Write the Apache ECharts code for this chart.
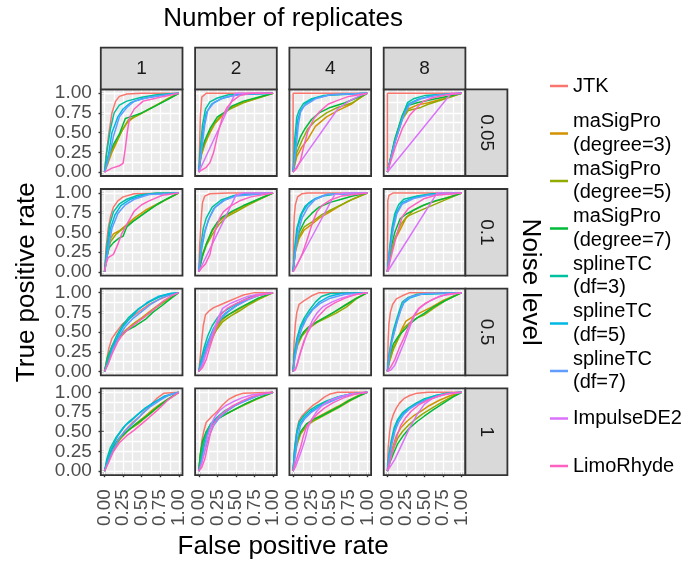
<!DOCTYPE html>
<html>
<head>
<meta charset="utf-8">
<script src="https://cdn.jsdelivr.net/npm/echarts@6.0.0/dist/echarts.min.js"></script>
<style>
  html, body { margin: 0; padding: 0; background: #fff; }
  #main { width: 693px; height: 563px; }
</style>
</head>
<body>
<div id="main"></div>
<script>
// facets
var replicates = ['1', '2', '4', '8'];
var noiseLevels = ['0.05', '0.1', '0.5', '1'];
var ticks = [0, 0.25, 0.5, 0.75, 1];
var tickLabels = ['0.00', '0.25', '0.50', '0.75', '1.00'];
var gridValues = [0, 0.125, 0.25, 0.375, 0.5, 0.625, 0.75, 0.875, 1];

var methods = ['JTK', 'maSigPro (degree=3)', 'maSigPro (degree=5)', 'maSigPro (degree=7)',
  'splineTC (df=3)', 'splineTC (df=5)', 'splineTC (df=7)', 'ImpulseDE2', 'LimoRhyde'];
var colors = ['#F8766D', '#D39200', '#93AA00', '#00BA38', '#00C19F', '#00B9E3', '#619CFF', '#DB72FB', '#FF61C3'];

// ROC curves [fpr, tpr], rows = noise level, cols = replicates
var JTK = [
  [[[0,0],[0.02,0.2],[0.06,0.5],[0.1,0.75],[0.15,0.9],[0.2,0.96],[0.3,0.99],[0.5,1],[1,1]],
   [[0,0],[0.01,0.3],[0.02,0.7],[0.04,0.95],[0.1,1],[1,1]],
   [[0,0],[0,1],[1,1]],
   [[0,0],[0,1],[1,1]]],
  [[[0,0],[0.02,0.3],[0.05,0.55],[0.08,0.7],[0.12,0.82],[0.18,0.9],[0.25,0.95],[0.4,0.99],[1,1]],
   [[0,0],[0.01,0.3],[0.03,0.65],[0.05,0.88],[0.08,0.96],[0.15,0.99],[0.4,1],[1,1]],
   [[0,0],[0.005,0.4],[0.015,0.7],[0.03,0.85],[0.06,0.95],[0.12,0.99],[0.2,1],[1,1]],
   [[0,0],[0.005,0.9],[0.02,0.97],[0.08,1],[1,1]]],
  [[[0,0],[0.03,0.15],[0.06,0.3],[0.1,0.42],[0.16,0.5],[0.24,0.6],[0.35,0.68],[0.45,0.75],[0.6,0.85],[0.75,0.92],[0.9,0.98],[1,1]],
   [[0,0],[0.02,0.2],[0.04,0.4],[0.06,0.58],[0.09,0.72],[0.14,0.77],[0.2,0.81],[0.3,0.85],[0.4,0.89],[0.5,0.93],[0.6,0.97],[0.75,1],[1,1]],
   [[0,0],[0.005,0.2],[0.015,0.4],[0.03,0.6],[0.05,0.75],[0.08,0.85],[0.15,0.9],[0.25,0.96],[0.35,1],[1,1]],
   [[0,0],[0.005,0.2],[0.01,0.4],[0.02,0.6],[0.04,0.75],[0.07,0.85],[0.12,0.92],[0.2,0.96],[0.3,1],[1,1]]],
  [[[0,0],[0.04,0.12],[0.1,0.28],[0.18,0.4],[0.28,0.52],[0.38,0.62],[0.48,0.7],[0.58,0.8],[0.7,0.92],[0.8,0.99],[1,1]],
   [[0,0],[0.02,0.2],[0.04,0.38],[0.07,0.52],[0.1,0.62],[0.18,0.7],[0.25,0.76],[0.32,0.84],[0.4,0.91],[0.5,0.96],[0.6,0.99],[1,1]],
   [[0,0],[0.02,0.3],[0.05,0.52],[0.08,0.64],[0.12,0.7],[0.18,0.76],[0.26,0.83],[0.34,0.88],[0.42,0.94],[0.5,0.98],[0.6,1],[1,1]],
   [[0,0],[0.01,0.3],[0.03,0.5],[0.05,0.63],[0.08,0.72],[0.12,0.8],[0.16,0.86],[0.22,0.92],[0.3,0.96],[0.4,0.99],[0.55,1],[1,1]]]
];

var SIGPRO3 = [
  [[[0,0],[0.05,0.12],[0.1,0.25],[0.15,0.35],[0.22,0.5],[0.3,0.62],[0.4,0.7],[0.55,0.77],[0.7,0.85],[0.85,0.93],[1,1]],
   [[0,0],[0.03,0.2],[0.08,0.35],[0.15,0.5],[0.22,0.62],[0.3,0.7],[0.4,0.8],[0.55,0.87],[0.75,0.93],[1,1]],
   [[0,0],[0.05,0.2],[0.12,0.32],[0.2,0.42],[0.3,0.58],[0.45,0.7],[0.6,0.78],[0.78,0.86],[0.9,0.94],[1,1]],
   [[0,0],[0.1,0.4],[0.2,0.7],[0.28,0.8],[0.4,0.85],[0.55,0.88],[0.75,0.93],[1,1]]],
  [[[0,0],[0.03,0.2],[0.07,0.4],[0.12,0.48],[0.2,0.52],[0.3,0.6],[0.4,0.68],[0.55,0.78],[0.75,0.88],[0.9,0.95],[1,1]],
   [[0,0],[0.04,0.2],[0.1,0.35],[0.17,0.5],[0.25,0.62],[0.35,0.7],[0.5,0.78],[0.65,0.85],[0.8,0.92],[1,1]],
   [[0,0],[0.03,0.25],[0.08,0.42],[0.15,0.53],[0.25,0.6],[0.35,0.68],[0.48,0.75],[0.6,0.82],[0.75,0.9],[0.9,0.96],[1,1]],
   [[0,0],[0.04,0.2],[0.1,0.4],[0.18,0.55],[0.25,0.68],[0.35,0.78],[0.45,0.83],[0.6,0.88],[0.8,0.94],[1,1]]],
  [[[0,0],[0.04,0.15],[0.1,0.3],[0.18,0.42],[0.28,0.52],[0.38,0.6],[0.5,0.68],[0.62,0.77],[0.75,0.86],[0.88,0.94],[1,1]],
   [[0,0],[0.04,0.12],[0.1,0.26],[0.16,0.4],[0.22,0.52],[0.3,0.64],[0.4,0.72],[0.52,0.78],[0.65,0.85],[0.8,0.92],[1,1]],
   [[0,0],[0.02,0.2],[0.06,0.35],[0.12,0.47],[0.2,0.56],[0.3,0.62],[0.42,0.68],[0.55,0.75],[0.7,0.84],[0.85,0.93],[1,1]],
   [[0,0],[0.03,0.15],[0.08,0.3],[0.14,0.42],[0.2,0.55],[0.25,0.64],[0.35,0.7],[0.45,0.75],[0.6,0.82],[0.75,0.9],[0.9,0.96],[1,1]]],
  [[[0,0],[0.04,0.12],[0.1,0.26],[0.2,0.4],[0.3,0.5],[0.42,0.6],[0.55,0.7],[0.65,0.78],[0.75,0.85],[0.88,0.93],[1,1]],
   [[0,0],[0.02,0.18],[0.05,0.33],[0.1,0.48],[0.16,0.58],[0.25,0.66],[0.35,0.72],[0.48,0.78],[0.62,0.85],[0.78,0.92],[1,1]],
   [[0,0],[0.02,0.2],[0.05,0.35],[0.1,0.48],[0.17,0.58],[0.26,0.65],[0.36,0.7],[0.48,0.76],[0.6,0.82],[0.75,0.9],[0.88,0.96],[1,1]],
   [[0,0],[0.03,0.15],[0.07,0.3],[0.12,0.45],[0.18,0.55],[0.26,0.63],[0.35,0.7],[0.45,0.76],[0.56,0.83],[0.7,0.9],[0.85,0.96],[1,1]]]
];

var SIGPRO5 = [
  [[[0,0],[0.05,0.15],[0.1,0.28],[0.18,0.42],[0.25,0.55],[0.32,0.66],[0.45,0.72],[0.6,0.8],[0.8,0.9],[1,1]],
   [[0,0],[0.03,0.22],[0.08,0.38],[0.15,0.52],[0.22,0.63],[0.3,0.72],[0.42,0.8],[0.6,0.88],[0.8,0.94],[1,1]],
   [[0,0],[0.05,0.25],[0.12,0.4],[0.2,0.55],[0.3,0.65],[0.45,0.75],[0.6,0.82],[0.8,0.88],[1,1]],
   [[0,0],[0.1,0.38],[0.2,0.67],[0.28,0.78],[0.45,0.82],[0.55,0.86],[0.75,0.92],[1,1]]],
  [[[0,0],[0.04,0.22],[0.08,0.38],[0.15,0.47],[0.25,0.55],[0.35,0.62],[0.5,0.72],[0.65,0.82],[0.8,0.9],[1,1]],
   [[0,0],[0.04,0.18],[0.1,0.33],[0.18,0.47],[0.27,0.6],[0.38,0.7],[0.5,0.76],[0.65,0.84],[0.82,0.92],[1,1]],
   [[0,0],[0.03,0.28],[0.08,0.45],[0.15,0.57],[0.25,0.63],[0.38,0.72],[0.5,0.78],[0.65,0.85],[0.8,0.92],[1,1]],
   [[0,0],[0.04,0.22],[0.1,0.42],[0.18,0.6],[0.26,0.7],[0.4,0.76],[0.55,0.82],[0.7,0.88],[0.85,0.94],[1,1]]],
  [[[0,0],[0.04,0.13],[0.1,0.28],[0.2,0.42],[0.3,0.52],[0.42,0.62],[0.55,0.7],[0.68,0.8],[0.8,0.88],[0.92,0.96],[1,1]],
   [[0,0],[0.04,0.1],[0.1,0.25],[0.17,0.4],[0.24,0.53],[0.32,0.63],[0.42,0.7],[0.55,0.77],[0.68,0.85],[0.82,0.92],[1,1]],
   [[0,0],[0.02,0.18],[0.06,0.33],[0.12,0.45],[0.2,0.54],[0.32,0.62],[0.45,0.68],[0.58,0.74],[0.72,0.82],[0.85,0.92],[1,1]],
   [[0,0],[0.03,0.13],[0.08,0.28],[0.15,0.42],[0.22,0.55],[0.3,0.62],[0.4,0.68],[0.5,0.72],[0.62,0.8],[0.78,0.9],[1,1]]],
  [[[0,0],[0.05,0.12],[0.12,0.27],[0.22,0.42],[0.32,0.52],[0.45,0.6],[0.55,0.68],[0.68,0.78],[0.8,0.87],[0.92,0.95],[1,1]],
   [[0,0],[0.02,0.2],[0.05,0.35],[0.1,0.5],[0.17,0.6],[0.26,0.67],[0.38,0.73],[0.5,0.79],[0.64,0.85],[0.8,0.92],[1,1]],
   [[0,0],[0.02,0.18],[0.05,0.33],[0.1,0.47],[0.18,0.57],[0.28,0.64],[0.38,0.69],[0.5,0.75],[0.62,0.81],[0.76,0.89],[0.9,0.96],[1,1]],
   [[0,0],[0.03,0.12],[0.08,0.28],[0.14,0.42],[0.2,0.5],[0.28,0.58],[0.38,0.66],[0.48,0.73],[0.6,0.8],[0.74,0.88],[0.88,0.95],[1,1]]]
];

var SIGPRO7 = [
  [[[0,0],[0.05,0.2],[0.12,0.35],[0.2,0.48],[0.28,0.68],[0.35,0.7],[0.5,0.75],[0.65,0.82],[0.85,0.92],[1,1]],
   [[0,0],[0.03,0.25],[0.08,0.4],[0.15,0.55],[0.25,0.7],[0.35,0.76],[0.45,0.84],[0.6,0.9],[0.8,0.95],[1,1]],
   [[0,0],[0.04,0.3],[0.1,0.45],[0.16,0.55],[0.25,0.67],[0.35,0.75],[0.5,0.82],[0.7,0.88],[0.85,0.94],[1,1]],
   [[0,0],[0.1,0.42],[0.2,0.72],[0.26,0.84],[0.4,0.88],[0.6,0.92],[0.8,0.96],[1,1]]],
  [[[0,0],[0.03,0.18],[0.06,0.3],[0.12,0.37],[0.2,0.43],[0.25,0.45],[0.3,0.57],[0.4,0.65],[0.55,0.75],[0.7,0.85],[0.85,0.93],[1,1]],
   [[0,0],[0.05,0.2],[0.1,0.35],[0.18,0.53],[0.25,0.63],[0.31,0.69],[0.45,0.77],[0.6,0.84],[0.8,0.92],[1,1]],
   [[0,0],[0.03,0.3],[0.08,0.5],[0.16,0.65],[0.25,0.74],[0.35,0.82],[0.5,0.88],[0.65,0.92],[0.8,0.96],[1,1]],
   [[0,0],[0.04,0.28],[0.1,0.5],[0.17,0.67],[0.25,0.73],[0.35,0.78],[0.5,0.85],[0.65,0.9],[0.85,0.95],[1,1]]],
  [[[0,0],[0.04,0.18],[0.1,0.32],[0.2,0.45],[0.3,0.52],[0.42,0.58],[0.55,0.66],[0.65,0.75],[0.78,0.84],[0.9,0.93],[1,1]],
   [[0,0],[0.04,0.14],[0.1,0.3],[0.16,0.44],[0.22,0.56],[0.3,0.66],[0.4,0.72],[0.52,0.79],[0.66,0.86],[0.8,0.93],[1,1]],
   [[0,0],[0.02,0.25],[0.06,0.37],[0.14,0.5],[0.22,0.57],[0.32,0.63],[0.45,0.7],[0.56,0.76],[0.7,0.84],[0.84,0.92],[1,1]],
   [[0,0],[0.03,0.2],[0.08,0.35],[0.15,0.45],[0.22,0.52],[0.3,0.6],[0.4,0.68],[0.5,0.74],[0.62,0.82],[0.78,0.9],[1,1]]],
  [[[0,0],[0.04,0.15],[0.1,0.28],[0.2,0.42],[0.3,0.5],[0.4,0.58],[0.5,0.65],[0.6,0.72],[0.72,0.82],[0.85,0.91],[1,1]],
   [[0,0],[0.02,0.22],[0.05,0.38],[0.1,0.5],[0.16,0.6],[0.25,0.66],[0.36,0.72],[0.48,0.78],[0.62,0.85],[0.78,0.92],[1,1]],
   [[0,0],[0.02,0.22],[0.05,0.38],[0.1,0.5],[0.18,0.6],[0.28,0.66],[0.38,0.7],[0.5,0.76],[0.62,0.82],[0.76,0.9],[0.9,0.96],[1,1]],
   [[0,0],[0.03,0.1],[0.08,0.22],[0.14,0.35],[0.22,0.46],[0.3,0.55],[0.4,0.63],[0.5,0.7],[0.62,0.78],[0.75,0.86],[0.88,0.94],[1,1]]]
];

var SPLINE3 = [
  [[[0,0],[0.03,0.25],[0.08,0.55],[0.13,0.75],[0.2,0.85],[0.3,0.9],[0.5,0.95],[0.7,0.98],[1,1]],
   [[0,0],[0.02,0.3],[0.05,0.6],[0.09,0.8],[0.15,0.89],[0.25,0.94],[0.4,0.98],[1,1]],
   [[0,0],[0.02,0.4],[0.05,0.7],[0.08,0.78],[0.14,0.87],[0.25,0.93],[0.4,0.97],[1,1]],
   [[0,0],[0.1,0.4],[0.2,0.7],[0.27,0.88],[0.35,0.93],[0.5,0.97],[1,1]]],
  [[[0,0],[0.03,0.3],[0.07,0.6],[0.12,0.76],[0.2,0.86],[0.3,0.92],[0.45,0.97],[0.7,1],[1,1]],
   [[0,0],[0.03,0.35],[0.06,0.55],[0.1,0.68],[0.18,0.82],[0.3,0.91],[0.45,0.96],[0.6,0.99],[1,1]],
   [[0,0],[0.02,0.3],[0.05,0.55],[0.1,0.72],[0.16,0.83],[0.25,0.9],[0.4,0.96],[0.6,0.99],[1,1]],
   [[0,0],[0.03,0.3],[0.06,0.55],[0.1,0.74],[0.15,0.85],[0.22,0.92],[0.4,0.96],[0.6,0.99],[1,1]]],
  [[[0,0],[0.04,0.15],[0.1,0.32],[0.16,0.45],[0.24,0.58],[0.32,0.68],[0.45,0.79],[0.6,0.88],[0.75,0.95],[0.9,0.99],[1,1]],
   [[0,0],[0.03,0.15],[0.07,0.3],[0.12,0.45],[0.18,0.58],[0.25,0.68],[0.32,0.75],[0.42,0.81],[0.55,0.88],[0.7,0.95],[0.85,0.98],[1,1]],
   [[0,0],[0.02,0.25],[0.05,0.42],[0.1,0.58],[0.15,0.68],[0.22,0.78],[0.3,0.88],[0.38,0.95],[0.5,0.99],[1,1]],
   [[0,0],[0.02,0.2],[0.05,0.38],[0.08,0.52],[0.12,0.65],[0.16,0.77],[0.2,0.88],[0.28,0.94],[0.4,0.98],[1,1]]],
  [[[0,0],[0.03,0.15],[0.08,0.3],[0.15,0.42],[0.25,0.55],[0.32,0.62],[0.42,0.7],[0.55,0.8],[0.68,0.88],[0.82,0.95],[1,1]],
   [[0,0],[0.03,0.15],[0.06,0.32],[0.1,0.48],[0.16,0.6],[0.24,0.68],[0.34,0.76],[0.45,0.82],[0.58,0.88],[0.72,0.93],[0.86,0.98],[1,1]],
   [[0,0],[0.02,0.28],[0.05,0.5],[0.08,0.62],[0.14,0.7],[0.22,0.77],[0.32,0.83],[0.45,0.89],[0.6,0.94],[0.78,0.98],[1,1]],
   [[0,0],[0.02,0.2],[0.05,0.38],[0.09,0.55],[0.14,0.66],[0.2,0.74],[0.28,0.8],[0.38,0.86],[0.5,0.92],[0.65,0.96],[0.8,0.99],[1,1]]]
];

var SPLINE5 = [
  [[[0,0],[0.05,0.2],[0.1,0.5],[0.18,0.7],[0.25,0.8],[0.35,0.88],[0.5,0.93],[0.8,0.98],[1,1]],
   [[0,0],[0.03,0.25],[0.06,0.55],[0.1,0.75],[0.17,0.86],[0.3,0.93],[0.5,0.98],[1,1]],
   [[0,0],[0.03,0.35],[0.06,0.65],[0.1,0.78],[0.18,0.88],[0.3,0.94],[0.5,0.98],[1,1]],
   [[0,0],[0.1,0.38],[0.2,0.68],[0.28,0.86],[0.4,0.92],[0.6,0.97],[1,1]]],
  [[[0,0],[0.04,0.3],[0.08,0.55],[0.14,0.72],[0.22,0.84],[0.35,0.92],[0.55,0.98],[1,1]],
   [[0,0],[0.04,0.3],[0.08,0.5],[0.13,0.66],[0.2,0.8],[0.32,0.9],[0.5,0.97],[1,1]],
   [[0,0],[0.03,0.3],[0.06,0.55],[0.12,0.74],[0.2,0.86],[0.3,0.93],[0.45,0.98],[1,1]],
   [[0,0],[0.03,0.28],[0.07,0.55],[0.12,0.75],[0.2,0.88],[0.35,0.94],[0.55,0.98],[1,1]]],
  [[[0,0],[0.05,0.12],[0.1,0.28],[0.18,0.45],[0.25,0.57],[0.35,0.68],[0.45,0.78],[0.58,0.88],[0.72,0.95],[0.88,0.99],[1,1]],
   [[0,0],[0.03,0.12],[0.08,0.28],[0.14,0.42],[0.2,0.55],[0.28,0.66],[0.36,0.74],[0.48,0.82],[0.62,0.9],[0.78,0.96],[1,1]],
   [[0,0],[0.02,0.2],[0.05,0.38],[0.1,0.55],[0.16,0.66],[0.25,0.78],[0.35,0.88],[0.48,0.95],[0.65,0.99],[1,1]],
   [[0,0],[0.02,0.18],[0.05,0.35],[0.09,0.5],[0.13,0.64],[0.17,0.76],[0.22,0.87],[0.3,0.93],[0.45,0.98],[1,1]]],
  [[[0,0],[0.04,0.14],[0.1,0.3],[0.18,0.45],[0.28,0.58],[0.35,0.63],[0.45,0.72],[0.55,0.8],[0.68,0.88],[0.8,0.95],[1,1]],
   [[0,0],[0.03,0.12],[0.07,0.3],[0.12,0.48],[0.18,0.6],[0.26,0.69],[0.36,0.76],[0.48,0.83],[0.6,0.89],[0.75,0.95],[1,1]],
   [[0,0],[0.02,0.25],[0.05,0.48],[0.09,0.6],[0.15,0.68],[0.24,0.76],[0.34,0.82],[0.46,0.88],[0.6,0.94],[0.78,0.98],[1,1]],
   [[0,0],[0.02,0.18],[0.05,0.35],[0.09,0.52],[0.14,0.64],[0.2,0.72],[0.3,0.8],[0.4,0.86],[0.52,0.91],[0.66,0.96],[0.82,0.99],[1,1]]]
];

var SPLINE7 = [
  [[[0,0],[0.05,0.15],[0.12,0.45],[0.2,0.7],[0.3,0.82],[0.4,0.9],[0.6,0.95],[1,1]],
   [[0,0],[0.04,0.3],[0.08,0.6],[0.12,0.78],[0.2,0.88],[0.35,0.95],[0.6,0.99],[1,1]],
   [[0,0],[0.04,0.3],[0.07,0.6],[0.1,0.76],[0.15,0.84],[0.3,0.93],[0.5,0.98],[1,1]],
   [[0,0],[0.1,0.37],[0.22,0.72],[0.3,0.86],[0.45,0.93],[0.7,0.98],[1,1]]],
  [[[0,0],[0.05,0.28],[0.1,0.55],[0.18,0.74],[0.28,0.85],[0.4,0.92],[0.6,0.98],[1,1]],
   [[0,0],[0.04,0.35],[0.09,0.55],[0.15,0.7],[0.22,0.82],[0.35,0.91],[0.5,0.96],[1,1]],
   [[0,0],[0.03,0.25],[0.07,0.5],[0.12,0.68],[0.2,0.82],[0.3,0.92],[0.45,0.98],[1,1]],
   [[0,0],[0.04,0.3],[0.08,0.55],[0.13,0.74],[0.2,0.86],[0.35,0.93],[0.55,0.97],[1,1]]],
  [[[0,0],[0.05,0.1],[0.12,0.3],[0.2,0.45],[0.28,0.57],[0.38,0.67],[0.5,0.76],[0.62,0.85],[0.78,0.94],[1,1]],
   [[0,0],[0.04,0.1],[0.1,0.28],[0.16,0.45],[0.22,0.56],[0.3,0.67],[0.4,0.76],[0.52,0.84],[0.66,0.91],[0.82,0.97],[1,1]],
   [[0,0],[0.03,0.2],[0.07,0.4],[0.12,0.55],[0.18,0.67],[0.26,0.78],[0.36,0.86],[0.5,0.93],[0.7,0.98],[1,1]],
   [[0,0],[0.03,0.2],[0.06,0.38],[0.1,0.52],[0.14,0.66],[0.18,0.78],[0.23,0.9],[0.32,0.95],[0.5,0.99],[1,1]]],
  [[[0,0],[0.05,0.12],[0.12,0.28],[0.2,0.42],[0.3,0.53],[0.4,0.62],[0.5,0.72],[0.62,0.82],[0.75,0.9],[0.88,0.97],[1,1]],
   [[0,0],[0.04,0.12],[0.08,0.25],[0.13,0.42],[0.2,0.58],[0.28,0.68],[0.38,0.76],[0.5,0.84],[0.65,0.9],[0.8,0.96],[1,1]],
   [[0,0],[0.03,0.2],[0.06,0.42],[0.1,0.58],[0.16,0.67],[0.25,0.75],[0.36,0.82],[0.5,0.88],[0.65,0.94],[0.82,0.98],[1,1]],
   [[0,0],[0.03,0.18],[0.06,0.34],[0.1,0.5],[0.15,0.62],[0.22,0.72],[0.3,0.79],[0.4,0.85],[0.52,0.9],[0.68,0.95],[0.84,0.99],[1,1]]]
];

// ImpulseDE2 needs replicates, so no curve for 1 replicate
var IMPULSE = [
  [null,
   [[0,0],[0.49,1],[1,1]],
   [[0,0],[0.6,0.8],[0.75,0.9],[0.9,0.97],[1,1]],
   [[0,0],[0.86,1],[1,1]]],
  [null,
   [[0,0],[0.5,0.97],[0.6,1],[1,1]],
   [[0,0],[0.56,0.98],[0.7,1],[1,1]],
   [[0,0],[0.67,1],[1,1]]],
  [null,
   [[0,0],[0.04,0.05],[0.09,0.2],[0.14,0.35],[0.2,0.52],[0.26,0.68],[0.32,0.8],[0.42,0.86],[0.52,0.9],[0.65,0.95],[0.8,0.98],[1,1]],
   [[0,0],[0.04,0.05],[0.08,0.18],[0.14,0.35],[0.2,0.52],[0.26,0.65],[0.32,0.74],[0.4,0.82],[0.52,0.88],[0.65,0.93],[0.8,0.97],[1,1]],
   [[0,0],[0.05,0.02],[0.1,0.08],[0.16,0.22],[0.23,0.38],[0.3,0.56],[0.36,0.7],[0.43,0.8],[0.5,0.85],[0.6,0.91],[0.72,0.96],[1,1]]],
  [null,
   [[0,0],[0.04,0.1],[0.08,0.28],[0.12,0.45],[0.17,0.6],[0.22,0.7],[0.28,0.77],[0.36,0.83],[0.46,0.88],[0.58,0.93],[0.72,0.97],[1,1]],
   [[0,0],[0.03,0.05],[0.07,0.15],[0.12,0.28],[0.16,0.4],[0.2,0.55],[0.25,0.66],[0.32,0.76],[0.4,0.84],[0.5,0.9],[0.62,0.94],[0.78,0.98],[1,1]],
   [[0,0],[0.1,0.15],[0.2,0.35],[0.3,0.55],[0.4,0.72],[0.5,0.85],[0.6,0.92],[0.75,0.97],[1,1]]]
];

var LIMO = [
  [[[0,0],[0.02,0.02],[0.1,0.05],[0.2,0.08],[0.25,0.11],[0.28,0.3],[0.31,0.53],[0.34,0.7],[0.4,0.8],[0.52,0.9],[0.66,0.93],[0.8,0.96],[1,1]],
   [[0,0],[0.03,0.02],[0.1,0.06],[0.15,0.12],[0.2,0.25],[0.26,0.5],[0.32,0.7],[0.38,0.82],[0.45,0.9],[0.55,0.97],[0.7,1],[1,1]],
   [[0,0],[0.05,0.05],[0.1,0.15],[0.15,0.35],[0.2,0.52],[0.28,0.68],[0.35,0.76],[0.47,0.86],[0.6,0.91],[0.75,0.96],[1,1]],
   [[0,0],[0.1,0.3],[0.2,0.55],[0.3,0.72],[0.38,0.8],[0.47,0.89],[0.6,0.94],[0.8,0.98],[1,1]]],
  [[[0,0],[0.02,0.1],[0.05,0.18],[0.12,0.22],[0.18,0.35],[0.23,0.48],[0.3,0.6],[0.4,0.77],[0.5,0.85],[0.6,0.9],[0.78,0.97],[1,1]],
   [[0,0],[0.04,0.05],[0.09,0.1],[0.15,0.22],[0.19,0.4],[0.22,0.52],[0.28,0.68],[0.33,0.76],[0.42,0.83],[0.55,0.9],[0.7,0.95],[1,1]],
   [[0,0],[0.05,0.08],[0.12,0.22],[0.18,0.38],[0.22,0.5],[0.26,0.62],[0.32,0.76],[0.4,0.85],[0.5,0.91],[0.65,0.96],[1,1]],
   [[0,0],[0.04,0.15],[0.1,0.38],[0.15,0.55],[0.2,0.7],[0.28,0.8],[0.38,0.86],[0.5,0.93],[0.65,0.97],[1,1]]],
  [[[0,0],[0.05,0.1],[0.1,0.22],[0.18,0.38],[0.25,0.48],[0.35,0.56],[0.45,0.63],[0.55,0.7],[0.68,0.8],[0.8,0.9],[0.9,0.96],[1,1]],
   [[0,0],[0.05,0.05],[0.1,0.15],[0.14,0.28],[0.18,0.4],[0.24,0.58],[0.3,0.72],[0.38,0.8],[0.5,0.86],[0.62,0.91],[0.78,0.96],[1,1]],
   [[0,0],[0.03,0.02],[0.06,0.1],[0.1,0.25],[0.15,0.4],[0.2,0.5],[0.26,0.6],[0.34,0.7],[0.44,0.8],[0.56,0.87],[0.7,0.93],[0.85,0.98],[1,1]],
   [[0,0],[0.04,0.05],[0.1,0.15],[0.16,0.3],[0.22,0.42],[0.28,0.56],[0.35,0.7],[0.42,0.8],[0.52,0.87],[0.65,0.93],[0.8,0.98],[1,1]]],
  [[[0,0],[0.05,0.1],[0.12,0.25],[0.2,0.36],[0.3,0.45],[0.4,0.52],[0.5,0.6],[0.6,0.68],[0.72,0.78],[0.85,0.9],[1,1]],
   [[0,0],[0.04,0.05],[0.08,0.15],[0.12,0.32],[0.16,0.5],[0.2,0.6],[0.26,0.68],[0.34,0.75],[0.44,0.82],[0.56,0.88],[0.7,0.94],[0.85,0.98],[1,1]],
   [[0,0],[0.03,0.1],[0.07,0.22],[0.1,0.3],[0.14,0.45],[0.18,0.56],[0.24,0.64],[0.32,0.72],[0.42,0.8],[0.54,0.87],[0.68,0.93],[0.84,0.98],[1,1]],
   [[0,0],[0.03,0.1],[0.06,0.22],[0.1,0.35],[0.14,0.48],[0.18,0.58],[0.24,0.67],[0.32,0.76],[0.42,0.84],[0.54,0.9],[0.68,0.95],[0.84,0.99],[1,1]]]
];

var curves = [JTK, SIGPRO3, SIGPRO5, SIGPRO7, SPLINE3, SPLINE5, SPLINE7, IMPULSE, LIMO];

// layout of the facet panels
var colLeft = [100.8, 195.1, 289.4, 383.7];
var rowTop = [89.3, 189, 288.7, 388.4];
var panelW = 81.7, panelH = 86.7;
var stripTop = 47.7, stripW = 42;
var font = '"Liberation Sans", Arial, Helvetica, sans-serif';

var chart = echarts.init(document.getElementById('main'));

function tickText(v) {
  var i = ticks.indexOf(v);
  return i < 0 ? '' : tickLabels[i];
}

// white panel grid as mark lines, so they span the whole panel
var gridLines = gridValues.map(function (v) { return { xAxis: v }; })
  .concat(gridValues.map(function (v) { return { yAxis: v }; }));

// rotated x labels are split over two axes so none get auto-hidden
var xLabelsA = [0, 0.5, 1];
var xLabelsB = [0.25, 0.75];

function xLabelStyle(show, values) {
  return {
    show: show, customValues: values, rotate: 90, margin: 14, fontSize: 19,
    interval: 0, hideOverlap: false, showMinLabel: true, showMaxLabel: true,
    color: '#4D4D4D', fontFamily: font, formatter: tickText
  };
}

var grids = [], xAxes = [], yAxes = [], extraX = [], series = [], graphics = [];

for (var r = 0; r < 4; r++) {
  for (var c = 0; c < 4; c++) {
    var k = r * 4 + c;
    grids.push({
      left: colLeft[c], top: rowTop[r], width: panelW, height: panelH,
      show: true, backgroundColor: '#EBEBEB', borderWidth: 0
    });
    xAxes.push({
      gridIndex: k, type: 'value', min: -0.05, max: 1.05, position: 'bottom',
      axisLine: { show: false },
      axisTick: { show: r == 3, length: 6, customValues: ticks, lineStyle: { color: '#333', width: 1.4 } },
      axisLabel: xLabelStyle(r == 3, xLabelsA),
      splitLine: { show: false }
    });
    if (r == 3) {
      extraX.push({
        gridIndex: k, type: 'value', min: -0.05, max: 1.05, position: 'bottom',
        axisLine: { show: false },
        axisTick: { show: false, customValues: xLabelsB },
        axisLabel: xLabelStyle(true, xLabelsB),
        splitLine: { show: false }
      });
    }
    yAxes.push({
      gridIndex: k, type: 'value', min: -0.05, max: 1.05, position: 'left',
      axisLine: { show: false },
      axisTick: { show: c == 0, length: 6, customValues: ticks, lineStyle: { color: '#333', width: 1.4 } },
      axisLabel: { show: c == 0, customValues: ticks, margin: 9, fontSize: 19,
        interval: 0, hideOverlap: false, showMinLabel: true, showMaxLabel: true,
        color: '#4D4D4D', fontFamily: font, formatter: tickText },
      splitLine: { show: false }
    });

    for (var m = 0; m < methods.length; m++) {
      var d = curves[m][r][c];
      if (!d) continue;
      var s = {
        type: 'line', name: methods[m], xAxisIndex: k, yAxisIndex: k,
        data: d, symbol: 'none', silent: true, animation: false,
        itemStyle: { color: colors[m] },
        lineStyle: { color: colors[m], width: 1.5 }
      };
      if (m == 0) {
        s.markLine = {
          z: 1, silent: true, animation: false, symbol: ['none', 'none'],
          label: { show: false }, emphasis: { disabled: true },
          lineStyle: { color: '#FFFFFF', width: 1.3, type: 'solid' },
          data: gridLines
        };
      }
      series.push(s);
    }

    // panel border on top
    graphics.push({
      type: 'rect', z: 100, silent: true,
      shape: { x: colLeft[c], y: rowTop[r], width: panelW, height: panelH },
      style: { fill: null, stroke: '#333333', lineWidth: 1.8 }
    });
  }
}

// strips
for (var c2 = 0; c2 < 4; c2++) {
  graphics.push({
    type: 'rect', z: 100, silent: true,
    shape: { x: colLeft[c2], y: stripTop, width: panelW, height: rowTop[0] - stripTop },
    style: { fill: '#D9D9D9', stroke: '#333333', lineWidth: 1.8 }
  });
  graphics.push({
    type: 'text', z: 101, silent: true,
    x: colLeft[c2] + panelW / 2, y: (stripTop + rowTop[0]) / 2,
    style: { text: replicates[c2], fontSize: 19, fontFamily: font, fill: '#1A1A1A', align: 'center', verticalAlign: 'middle' }
  });
}
var stripX = colLeft[3] + panelW;
for (var r2 = 0; r2 < 4; r2++) {
  graphics.push({
    type: 'rect', z: 100, silent: true,
    shape: { x: stripX, y: rowTop[r2], width: stripW, height: panelH },
    style: { fill: '#D9D9D9', stroke: '#333333', lineWidth: 1.8 }
  });
  graphics.push({
    type: 'text', z: 101, silent: true, rotation: -Math.PI / 2,
    x: stripX + stripW / 2, y: rowTop[r2] + panelH / 2,
    style: { text: noiseLevels[r2], fontSize: 19, fontFamily: font, fill: '#1A1A1A', align: 'center', verticalAlign: 'middle' }
  });
}

var midX = (colLeft[0] + colLeft[3] + panelW) / 2;
var midY = (rowTop[0] + rowTop[3] + panelH) / 2;
graphics.push({
  type: 'text', silent: true, x: midX, y: 19,
  style: { text: 'Number of replicates', fontSize: 26, fontFamily: font, fill: '#000', align: 'center', verticalAlign: 'middle' }
});
graphics.push({
  type: 'text', silent: true, x: midX, y: 547,
  style: { text: 'False positive rate', fontSize: 26, fontFamily: font, fill: '#000', align: 'center', verticalAlign: 'middle' }
});
graphics.push({
  type: 'text', silent: true, x: 27, y: midY, rotation: Math.PI / 2,
  style: { text: 'True positive rate', fontSize: 26, fontFamily: font, fill: '#000', align: 'center', verticalAlign: 'middle' }
});
graphics.push({
  type: 'text', silent: true, x: 530, y: midY, rotation: -Math.PI / 2,
  style: { text: 'Noise level', fontSize: 26, fontFamily: font, fill: '#000', align: 'center', verticalAlign: 'middle' }
});

var option = {
  backgroundColor: '#fff',
  animation: false,
  grid: grids,
  xAxis: xAxes.concat(extraX),
  yAxis: yAxes,
  legend: {
    orient: 'vertical', left: 550, top: 62.25, padding: 0,
    itemWidth: 18, itemHeight: 2.5, itemGap: 0,
    selectedMode: false, icon: 'rect',
    data: methods,
    formatter: function (name) {
      var i = name.indexOf(' (');
      if (i < 0) return '{b|' + name + '}';
      return '{a|' + name.slice(0, i) + '}\n{a|' + name.slice(i + 1) + '}';
    },
    textStyle: {
      fontSize: 20, fontFamily: font, color: '#000', lineHeight: 23.75,
      rich: {
        a: { fontSize: 20, fontFamily: font, lineHeight: 23.75, height: 23.75, color: '#000' },
        b: { fontSize: 20, fontFamily: font, lineHeight: 47.5, height: 47.5, color: '#000' }
      }
    }
  },
  graphic: graphics,
  series: series
};

chart.setOption(option);
</script>
</body>
</html>
